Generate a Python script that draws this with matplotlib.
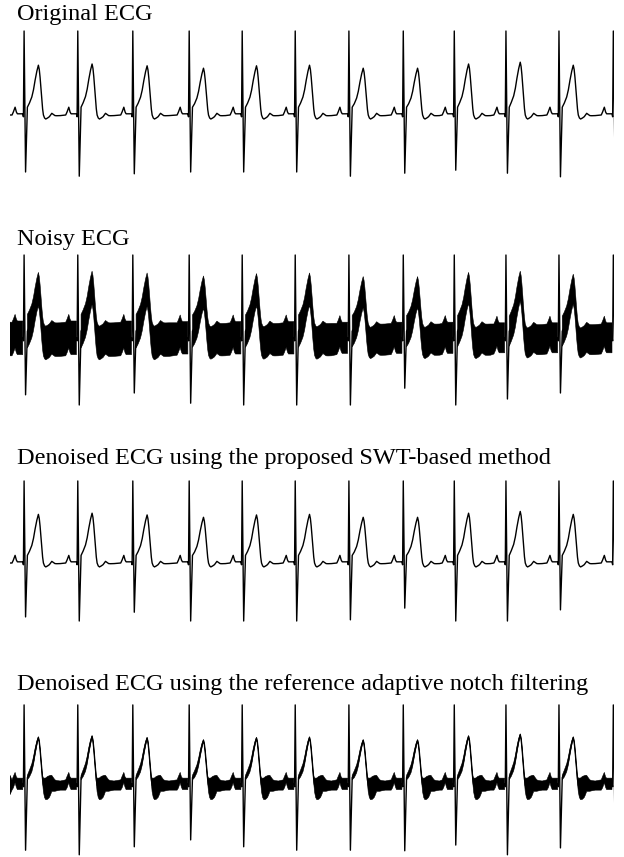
import matplotlib.pyplot as plt
import numpy as np

plt.rcParams['font.family'] = ['Liberation Serif', 'DejaVu Serif']

titles = [
    "Original ECG",
    "Noisy ECG",
    "Denoised ECG using the proposed SWT-based method",
    "Denoised ECG using the reference adaptive notch filtering",
]

# R-peak times (s) of the 12 beats in the record
beat_times = [0.21, 1.01, 1.83, 2.67, 3.46, 4.25, 5.05, 5.86, 6.62, 7.39, 8.18, 8.99]
# T-wave peak per beat (mV)
t_peaks = [0.83, 0.85, 0.82, 0.78, 0.82, 0.83, 0.78, 0.78, 0.85, 0.88, 0.83, 0.83]

# one beat: offset from R peak (ms) and amplitude (mV)
tmpl_ms = [-180, -160, -134, -115, -100, -20, -10, 0, 22, 49, 80, 115, 140, 164,
           190, 213, 226, 238, 252, 264, 276, 288, 305, 323, 350, 377, 395, 413,
           435, 460, 487, 540]
tmpl_mv = [0.0, 0.05, 0.13, 0.05, 0.02, 0.02, -0.03, 1.40, -0.95, 0.13, 0.20, 0.30,
           0.42, 0.58, 0.73, 0.83, 0.76, 0.63, 0.43, 0.25, 0.10, 0.0, -0.05, -0.067,
           -0.05, -0.028, 0.0, 0.028, 0.01, -0.01, -0.012, -0.01]

# S-wave depth per beat in each trace (mV); last beat is cut at the record end
s_orig = [-0.95, -1.02, -0.98, -0.95, -0.95, -0.95, -1.02, -0.97, -0.92, -0.97, -1.03, -0.52]
s_noisy = [-0.93, -1.10, -0.90, -1.07, -1.10, -1.10, -1.10, -0.82, -1.10, -1.00, -0.90, -0.23]
s_swt = [-0.92, -0.99, -0.84, -0.99, -0.99, -0.99, -0.97, -0.77, -0.99, -0.99, -0.80, -0.20]
s_notch = [-1.14, -1.22, -1.08, -0.96, -1.08, -1.14, -1.14, -1.15, -1.05, -1.22, -1.10, -0.45]

# half width of the interference band (mV)
noise_hw = [0.28, 0.28, 0.28, 0.27, 0.27, 0.27, 0.26, 0.26, 0.26, 0.25, 0.25, 0.25]
notch_hw = [0.09, 0.10, 0.09, 0.09, 0.10, 0.10, 0.0, 0.0, 0.0, 0.04, 0.06, 0.07,
            0.07, 0.06, 0.04, 0.015, 0.015, 0.015, 0.02, 0.03, 0.06, 0.12, 0.17, 0.19,
            0.20, 0.19, 0.17, 0.14, 0.12, 0.10, 0.09, 0.08]

QRS = (-10, 0, 22)


def make_trace(s_vals, band=None, start_hw=0.0):
    t, y, e, keep = [0.0], [0.0], [start_hw], [True]
    for i, bt in enumerate(beat_times):
        last = i == len(beat_times) - 1
        for j, (ms, mv) in enumerate(zip(tmpl_ms, tmpl_mv)):
            if last and ms > 22:
                break
            if ms == 22:
                mv = s_vals[i]
            elif 49 < ms < 288:
                mv = mv * t_peaks[i] / 0.83
            t.append(bt + ms / 1000.0)
            y.append(mv)
            if band is None:
                e.append(0.0)
            elif len(band) == len(tmpl_ms):
                e.append(band[j])
            else:
                e.append(band[i])
            keep.append(ms not in QRS)
    return np.array(t), np.array(y), np.array(e), np.array(keep)


traces = [
    make_trace(s_orig),
    make_trace(s_noisy, noise_hw, 0.28),
    make_trace(s_swt),
    make_trace(s_notch, notch_hw, 0.17),
]

W, H = 624, 857
fig = plt.figure(figsize=(W / 100, H / 100), dpi=100)

baselines = [115, 339, 563, 785]
px_per_mv = [60, 60, 58.6, 57.2]
title_y = [20, 245, 464, 690]
ylo, yhi = -1.3, 1.6

for k in range(4):
    top = baselines[k] - yhi * px_per_mv[k]
    bot = baselines[k] - ylo * px_per_mv[k]
    ax = fig.add_axes([10 / W, 1 - bot / H, 604 / W, (bot - top) / H])
    t, y, e, keep = traces[k]
    if e.max() > 0:
        ax.fill_between(t, y - e, y + e, where=keep, color='black',
                        linewidth=0.4, interpolate=False)
    ax.plot(t, y, color='black', lw=1.0)
    ax.set_xlim(0, 9.0)
    ax.set_ylim(ylo, yhi)
    ax.axis('off')
    fig.text(17 / W, 1 - title_y[k] / H, titles[k], fontsize=17.5, va='baseline', ha='left')

fig.savefig('out.png', dpi=100)
